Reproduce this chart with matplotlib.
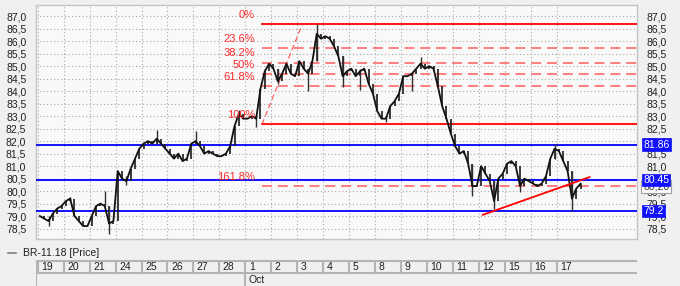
import numpy as np
import matplotlib
matplotlib.use("Agg")
import matplotlib.pyplot as plt
import matplotlib.transforms as mtransforms
from matplotlib.ticker import FuncFormatter

plt.rcParams['font.family'] = ['Liberation Sans', 'DejaVu Sans']

# -----------------------------------------------------------------------------
# datos (6 barras por sesion)
# -----------------------------------------------------------------------------
day_labels = ['19', '20', '21', '24', '25', '26', '27', '28', '1', '2', '3',
              '4', '5', '8', '9', '10', '11', '12', '15', '16', '17']
month_label = 'Oct'
month_start = 8
bars_per_day = 6

closes = [
    79.0, 78.9, 78.8, 79.1, 79.3, 79.4,   # 19
    79.6, 79.7, 79.0, 78.8, 78.6, 78.6,   # 20
    79.0, 79.4, 79.5, 79.4, 78.7, 78.8,   # 21
    80.8, 80.5, 80.4, 80.9, 81.3, 81.7,   # 24
    81.9, 82.0, 81.9, 82.1, 81.9, 81.7,   # 25
    81.5, 81.3, 81.5, 81.2, 81.3, 81.9,   # 26
    82.0, 81.8, 81.5, 81.6, 81.5, 81.4,   # 27
    81.4, 81.5, 81.8, 82.6, 83.1, 82.9,   # 28
    82.9, 83.0, 82.9, 84.1, 84.8, 85.1,   # 1
    84.9, 84.4, 84.7, 85.1, 84.7, 84.6,   # 2
    85.2, 84.9, 84.7, 85.2, 86.3, 86.1,   # 3
    86.2, 86.1, 85.8, 85.4, 84.6, 84.8,   # 4
    84.9, 84.6, 84.8, 84.9, 84.3, 83.9,   # 5
    83.2, 82.9, 82.9, 83.4, 83.6, 83.9,   # 8
    84.6, 84.6, 84.7, 84.9, 85.1, 84.9,   # 9
    85.0, 84.9, 84.2, 83.4, 82.9, 82.3,   # 10
    81.8, 81.5, 81.6, 81.1, 80.2, 80.2,   # 11
    81.0, 80.7, 80.4, 79.6, 80.5, 80.7,   # 12
    81.1, 81.2, 81.0, 80.2, 80.5, 80.4,   # 15
    80.3, 80.2, 80.3, 80.6, 81.3, 81.7,   # 16
    81.6, 81.2, 80.8, 79.7, 80.1, 80.3,   # 17
]

# mechas destacadas: indice de barra, minimo, maximo
spike_idx = [2, 7, 15, 16, 20, 27, 36, 46, 50, 55, 62, 64, 70, 74, 80, 86, 88,
             100, 105, 111, 119, 123]
spike_lo = [78.6, 79.6, 79.4, 78.3, 80.25, 81.9, 82.0, 83.0, 82.55, 84.3, 84.0,
            85.2, 84.15, 84.05, 82.75, 84.0, 85.0, 79.8, 79.3, 79.95, 81.3, 79.2]
spike_hi = [79.0, 79.75, 80.0, 79.4, 80.6, 82.45, 82.4, 83.25, 83.0, 84.9, 84.9,
            86.68, 85.4, 84.9, 83.0, 84.7, 85.35, 81.1, 80.4, 80.5, 81.9, 80.8]

# Fibonacci
fib_high = 86.67
fib_low = 82.67
fib_levels = [0.0, 23.6, 38.2, 50.0, 61.8, 100.0, 161.8]
fib_start = 8.64
fib_diag_end = 10.19

# soportes / resistencias
blue_levels = [81.86, 80.45, 79.2]
blue_texts = ['81.86', '80.45', '79.2']

# linea de tendencia
trend_x = [17.15, 21.26]
trend_y = [79.05, 80.56]

# -----------------------------------------------------------------------------
# figura
# -----------------------------------------------------------------------------
W, H = 680, 286
fig = plt.figure(figsize=(W / 100, H / 100), dpi=100)
fig.patch.set_facecolor('#f0f0f0')

ax = fig.add_axes([36 / W, 1 - 239.3 / H, 601 / W, 234.3 / H])
ax.set_facecolor('#f9f9f9')
for s in ax.spines.values():
    s.set_color('#c4c4c4')
    s.set_linewidth(1.0)

ax.set_xlim(-0.066, 23.09)
ax.set_ylim(78.07, 87.45)

yt = np.arange(78.5, 87.01, 0.5)
ax.set_yticks(yt)
ax.yaxis.set_major_formatter(FuncFormatter(lambda v, p: f'{v:.1f}'.replace('.', ',')))
ax.set_xticks(np.arange(len(day_labels)))
ax.tick_params(axis='x', bottom=False, labelbottom=False)
ax.tick_params(axis='y', left=False, right=False, labelleft=True, labelright=True,
               labelsize=7.5, pad=3.5, labelcolor='#202020')
ax.grid(True, color='#a8a8a8', linewidth=0.8, linestyle=(0, (1, 2.2)))

# precio
c = np.array(closes)
xb = np.arange(len(c)) / bars_per_day + 0.5 / bars_per_day
prev = np.concatenate([[c[0]], c[:-1]])
ax.vlines(xb, np.minimum(prev, c), np.maximum(prev, c), color='#1a1a1a', lw=1.2, zorder=4)
ax.vlines(xb[spike_idx], spike_lo, spike_hi, color='#303030', lw=1.0, zorder=4)
ax.plot(xb, c, color='#111111', lw=1.3, zorder=4)

# Fibonacci
rng = fib_high - fib_low
for lv in fib_levels:
    yv = fib_high - lv / 100 * rng
    if lv in (0.0, 100.0):
        ax.plot([fib_start, ax.get_xlim()[1]], [yv, yv], color='#ff0000', lw=1.3, zorder=3)
    else:
        ax.plot([fib_start, ax.get_xlim()[1]], [yv, yv], color='#ff6a6a', lw=1.2,
                linestyle=(0, (6, 3.5)), zorder=3)
    txt = f'{lv:g}%'
    ax.annotate(txt, xy=(fib_start, yv), xytext=(-5, 3.2), textcoords='offset points',
                ha='right', va='bottom', fontsize=8, color='#ff2a2a', zorder=5)
ax.plot([fib_start, fib_diag_end], [fib_low, fib_high], color='#ff5050', lw=0.8,
        linestyle=(0, (5, 3)), zorder=3)

# niveles azules
for lv in blue_levels:
    ax.axhline(lv, color='#0000ff', lw=1.3, zorder=3)

ax.plot(trend_x, trend_y, color='#ff0000', lw=1.3, zorder=5)

# etiquetas del eje derecho
tr = mtransforms.blended_transform_factory(ax.transAxes, ax.transData)
x_lab = 1 + 6 / 601
ax.text(x_lab, fib_high - 1.618 * rng, '80,20', transform=tr, ha='left', va='center',
        fontsize=7.5, color='#404040', zorder=6, clip_on=False,
        bbox=dict(boxstyle='square,pad=0.15', fc='#fafafa', ec='#a0a0a0', lw=0.8))
for lv, t in zip(blue_levels, blue_texts):
    ax.text(x_lab, lv, t, transform=tr, ha='left', va='center', fontsize=7.5,
            color='white', zorder=7, clip_on=False,
            bbox=dict(boxstyle='square,pad=0.12', fc='#1010ff', ec='#1010ff', lw=0.5))

# leyenda
fig.add_artist(plt.Line2D([8 / W, 16 / W], [1 - 252.5 / H] * 2, color='#808080', lw=1.2))
fig.text(23 / W, 1 - 252.5 / H, 'BR-11.18 [Price]', ha='left', va='center',
         fontsize=7.5, color='#202020')

# eje de fechas
axd = fig.add_axes([36 / W, 0, 601 / W, 26 / H])
axd.set_xlim(ax.get_xlim())
axd.set_ylim(26, 0)
axd.axis('off')
axd.axhline(0.5, color='#b4b4b4', lw=1.5)
axd.axhline(13.3, color='#b4b4b4', lw=1.5)
axd.axvline(-0.06, color='#b4b4b4', lw=1.5)
for i, lab in enumerate(day_labels):
    bottom = 26 if i == month_start else 13.3
    axd.plot([i, i], [0.5, bottom], color='#b4b4b4', lw=1.5)
    axd.annotate(lab, xy=(i, 6.8), xytext=(2.5, 0), textcoords='offset points',
                 ha='left', va='center', fontsize=7.5, color='#202020')
axd.annotate(month_label, xy=(month_start, 19.8), xytext=(2.5, 0), textcoords='offset points',
             ha='left', va='center', fontsize=7.5, color='#202020')

fig.savefig('out.png', dpi=100, facecolor=fig.get_facecolor())
